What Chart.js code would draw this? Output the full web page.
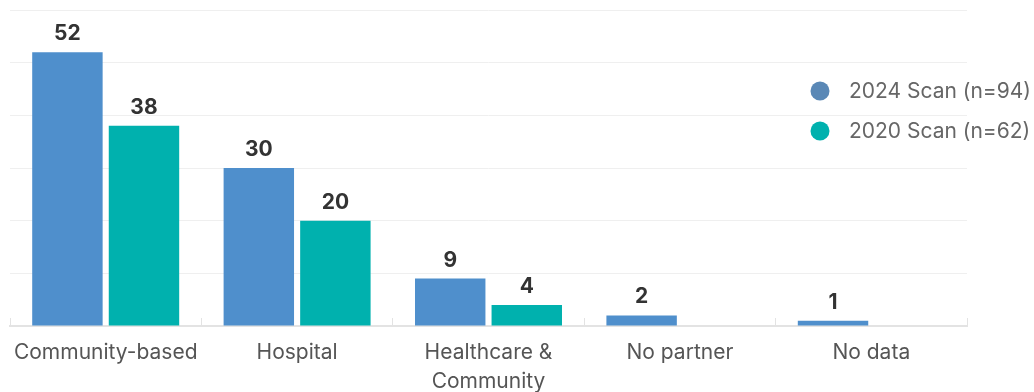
<!DOCTYPE html>
<html>
<head>
<meta charset="utf-8">
<script src="https://cdn.jsdelivr.net/npm/chart.js@4.4.1/dist/chart.umd.min.js"></script>
<style>
  html, body { margin: 0; padding: 0; background: #fff; }
  #wrap { position: relative; width: 1034px; height: 392px; }
</style>
</head>
<body>
<div id="wrap"><canvas id="c" width="1034" height="392"></canvas></div>
<script>
const categories = ['Community-based', 'Hospital', ['Healthcare &', 'Community'], 'No partner', 'No data'];
const seriesNames = ['2024 Scan (n=94)', '2020 Scan (n=62)'];
const values2024 = [52, 30, 9, 2, 1];
const values2020 = [38, 20, 4, null, null];
const barColors = ['#4f8fcc', '#00b1ae'];
const legendColors = ['#5a88b6', '#00b1ae'];
const yTicks = [0, 10, 20, 30, 40, 50, 60];

const FONT = 'Inter, "Noto Sans", sans-serif';

const valueLabels = {
  id: 'valueLabels',
  afterDatasetsDraw(chart) {
    const ctx = chart.ctx;
    ctx.save();
    ctx.font = 'bold 21px ' + FONT;
    ctx.fillStyle = '#333333';
    ctx.textAlign = 'center';
    ctx.textBaseline = 'alphabetic';
    chart.data.datasets.forEach((ds, i) => {
      const meta = chart.getDatasetMeta(i);
      meta.data.forEach((bar, j) => {
        const v = ds.data[j];
        if (v === null || v === undefined) return;
        ctx.fillText(String(v), bar.x, bar.y - 12);
      });
    });
    ctx.restore();
  }
};

const sideLegend = {
  id: 'sideLegend',
  afterDraw(chart) {
    const ctx = chart.ctx;
    ctx.save();
    ctx.font = '21px ' + FONT;
    ctx.textBaseline = 'middle';
    ctx.textAlign = 'left';
    chart.data.datasets.forEach((ds, i) => {
      const y = 91 + i * 40;
      ctx.beginPath();
      ctx.arc(820, y, 9.5, 0, Math.PI * 2);
      ctx.fillStyle = legendColors[i];
      ctx.fill();
      ctx.fillStyle = '#666666';
      ctx.fillText(ds.label, 849, y + 1);
    });
    ctx.restore();
  }
};

new Chart(document.getElementById('c'), {
  type: 'bar',
  data: {
    labels: categories,
    datasets: [
      { label: seriesNames[0], data: values2024, backgroundColor: barColors[0] },
      { label: seriesNames[1], data: values2020, backgroundColor: barColors[1] }
    ]
  },
  options: {
    responsive: false,
    animation: false,
    layout: { padding: { left: 10, right: 67, top: 10, bottom: 0 } },
    datasets: { bar: { categoryPercentage: 0.8, barPercentage: 0.92 } },
    plugins: { legend: { display: false }, tooltip: { enabled: false } },
    scales: {
      x: {
        afterFit(scale) { scale.height = 66; scale.paddingLeft = 0; scale.paddingRight = 0; },
        grid: { drawOnChartArea: false, color: '#e3e3e3', tickLength: -8, lineWidth: 1 },
        border: { display: true, color: '#e3e3e3', width: 2 },
        ticks: { color: '#555555', font: { family: FONT, size: 21, lineHeight: 1.38 }, padding: 20, maxRotation: 0, autoSkip: false }
      },
      y: {
        min: 0, max: 60,
        afterBuildTicks(scale) { scale.ticks = yTicks.map(v => ({ value: v })); },
        grid: { color: '#efefef', lineWidth: 1, drawTicks: false },
        border: { display: false },
        ticks: { display: false }
      }
    }
  },
  plugins: [valueLabels, sideLegend]
});
</script>
</body>
</html>
